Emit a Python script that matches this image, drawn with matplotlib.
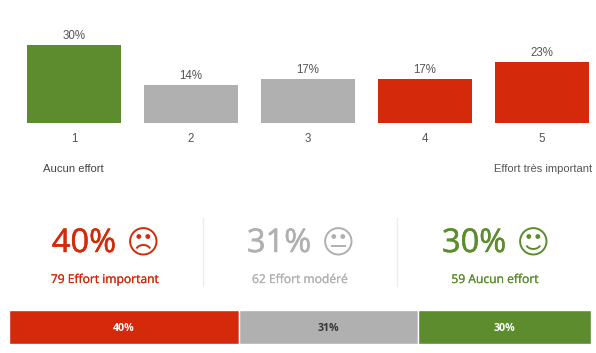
import matplotlib
matplotlib.use('Agg')
import matplotlib.pyplot as plt
import matplotlib.patheffects as pe
from matplotlib.patches import Circle, Arc

W, H = 596, 353

# Data: bar heights are the counts, labels are the rounded percentages
categories = ['1', '2', '3', '4', '5']
counts = [59, 29, 33, 33, 46]
pct_labels = ['30%', '14%', '17%', '17%', '23%']
bar_colors = ['#5c8c2e', '#b0b0b0', '#b0b0b0', '#d4290a', '#d4290a']

group_pcts = [40, 31, 30]
group_counts = [79, 62, 59]
group_names = ['Effort important', 'Effort modéré', 'Aucun effort']
group_colors = ['#d4290a', '#b0b0b0', '#5c8c2e']
stack_text_colors = ['white', '#333333', 'white']
moods = ['sad', 'neutral', 'happy']


def axes_px(fig, x0, y0, x1, y1):
    # rectangle given in picture pixels, y going down
    return fig.add_axes([x0 / W, 1 - y1 / H, (x1 - x0) / W, (y1 - y0) / H])


fig = plt.figure(figsize=(W / 100, H / 100), dpi=100)

# Top column chart
ax = axes_px(fig, 15.5, 20, 596, 123)
positions = list(range(1, len(counts) + 1))
bars = ax.bar(positions, counts, width=0.803, color=bar_colors)
ax.set_xlim(0.5, 0.5 + 580.5 / 117)
ax.set_ylim(0, 103 * 59 / 78)
ax.axis('off')
for bar, v, lab, c in zip(bars, counts, pct_labels, categories):
    xc = bar.get_x() + bar.get_width() / 2
    ax.annotate(lab, (xc, v), xytext=(0, 2.2), textcoords='offset points', ha='center', va='bottom',
                fontsize=8.3, color='#555555', family='Liberation Sans')
    ax.annotate(c, (xc, 0), xytext=(0, -7.5), textcoords='offset points', ha='center', va='top',
                fontsize=8.3, color='#555555', family='Liberation Sans')

# Overlay in pixel coordinates for the summary block
ov = fig.add_axes([0, 0, 1, 1])
ov.set_xlim(0, W)
ov.set_ylim(H, 0)
ov.axis('off')
ov.patch.set_alpha(0)

ov.text(73, 169, 'Aucun effort', ha='center', va='center', fontsize=8.1, color='#444444',
        family='Liberation Sans')
ov.text(592, 169, 'Effort très important', ha='right', va='center', fontsize=8.0, color='#555555',
        family='Liberation Sans')

num_x = [84, 279, 474]
icon_x = [143.3, 338.3, 533.3]
label_x = [105, 300, 495]
for i in range(3):
    col = group_colors[i]
    ov.text(num_x[i], 243.5, f'{group_pcts[i]}%', ha='center', va='center', fontsize=23.5, color=col,
            family='Open Sans', path_effects=[pe.withStroke(linewidth=0.35, foreground=col)])
    ov.text(label_x[i], 279.5, f'{group_counts[i]} {group_names[i]}', ha='center', va='center', fontsize=8.7,
            color=col, family='Open Sans', path_effects=[pe.withStroke(linewidth=0.15, foreground=col)])

    cx = icon_x[i]
    ov.add_patch(Circle((cx, 241.3), 13.2, fill=False, ec=col, lw=1.4))
    ov.add_patch(Circle((cx - 4.5, 236.5), 1.7, color=col))
    ov.add_patch(Circle((cx + 4.5, 236.5), 1.7, color=col))
    if moods[i] == 'sad':
        ov.add_patch(Arc((cx, 251), 15, 12, theta1=200, theta2=340, ec=col, lw=1.4))
    elif moods[i] == 'happy':
        ov.add_patch(Arc((cx, 243), 15, 12, theta1=20, theta2=160, ec=col, lw=1.4))
    else:
        ov.plot([cx - 6.5, cx + 6.5], [245.5, 245.5], color=col, lw=1.4)

for x in [203, 397]:
    ov.plot([x, x], [218, 286], color='#ececec', lw=1)

# Stacked bar at the bottom
ax2 = axes_px(fig, 9, 310, 591, 343.5)
left = 0
for i in range(3):
    ax2.barh(0, group_pcts[i], left=left, height=1, color=group_colors[i], edgecolor='white', linewidth=1)
    ax2.text(left + group_pcts[i] / 2, -0.04, f'{group_pcts[i]}%', ha='center', va='center', fontsize=7.7,
             color=stack_text_colors[i], family='Open Sans', fontweight='bold')
    left += group_pcts[i]
ax2.set_xlim(0, sum(group_pcts))
ax2.set_ylim(-0.5, 0.5)
ax2.axis('off')

fig.savefig('out.png', dpi=100)
